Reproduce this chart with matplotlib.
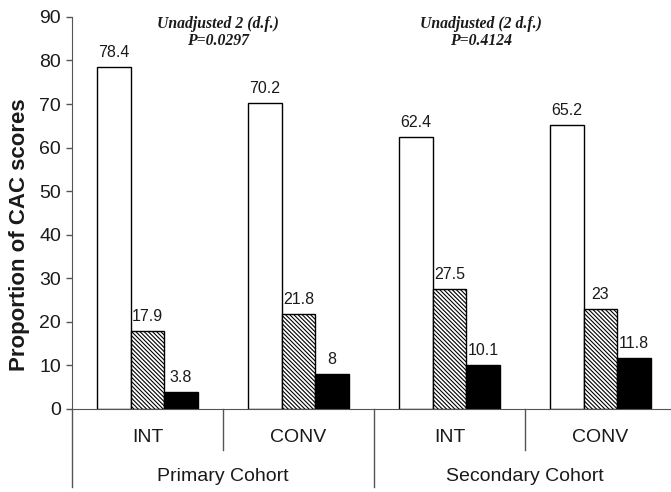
import matplotlib
matplotlib.use("Agg")
import matplotlib.pyplot as plt
import numpy as np

# data
groups = ["INT", "CONV", "INT", "CONV"]
cohorts = ["Primary Cohort", "Secondary Cohort"]
score_zero = [78.4, 70.2, 62.4, 65.2]
score_mid = [17.9, 21.8, 27.5, 23]
score_high = [3.8, 8, 10.1, 11.8]
notes = [("Unadjusted 2 (d.f.)", "P=0.0297"), ("Unadjusted (2 d.f.)", "P=0.4124")]

plt.rcParams["font.family"] = ["Liberation Sans", "DejaVu Sans"]
plt.rcParams["hatch.linewidth"] = 0.8
ink = "#1a1a1a"
line_col = "#555555"

fig = plt.figure(figsize=(6.71, 4.92), dpi=100)
ax = fig.add_axes([0.1073, 0.1687, 0.9002, 0.797])

x = np.arange(len(groups))
w = 0.222
series = [
    (score_zero, -w, dict(facecolor="white", hatch=None)),
    (score_mid, 0.0, dict(facecolor="white", hatch="\\" * 8)),
    (score_high, w, dict(facecolor="black", hatch=None)),
]
for vals, off, style in series:
    bars = ax.bar(x + off, vals, width=w, edgecolor="black", linewidth=1.0, **style)
    for b, v in zip(bars, vals):
        ax.annotate(f"{v:g}", (b.get_x() + b.get_width() / 2, v), xytext=(0, 5),
                    textcoords="offset points", ha="center", va="bottom",
                    fontsize=11.5, color=ink)

ax.set_xlim(-0.5, 3.5)
ax.set_ylim(0, 90)
ax.set_yticks(np.arange(0, 91, 10))
ax.tick_params(axis="y", length=4, width=1, color=line_col, labelsize=14,
               labelcolor=ink, pad=4)
ax.set_xticks([])
for s in ["top", "right"]:
    ax.spines[s].set_visible(False)
ax.spines["left"].set_color(line_col)
ax.spines["bottom"].set_color(line_col)
ax.set_ylabel("Proportion of CAC scores", fontsize=16, fontweight="bold", color=ink)
ax.yaxis.set_label_coords(-0.069, 0.444)

# category axis structure below the plot
tr = ax.get_xaxis_transform()
ax.plot([-0.5, -0.5], [0, -0.2], transform=tr, color=line_col, lw=1, clip_on=False)
for xd in [0.5, 2.5]:
    ax.plot([xd, xd], [0, -0.105], transform=tr, color=line_col, lw=1, clip_on=False)
ax.plot([1.5, 1.5], [0, -0.2], transform=tr, color=line_col, lw=1, clip_on=False)
for xi, g in zip(x, groups):
    ax.text(xi, -0.072, g, transform=tr, ha="center", va="center",
            fontsize=14, color=ink)
for xi, c in zip([0.5, 2.5], cohorts):
    ax.text(xi, -0.173, c, transform=tr, ha="center", va="center",
            fontsize=14, color=ink)

# test annotations
for xi, (l1, l2) in zip([0.467, 2.21], notes):
    ax.text(xi, 88.4, l1, ha="center", va="center", fontsize=11.3,
            family="Liberation Serif", style="italic", fontweight="bold", color=ink)
    ax.text(xi, 84.4, l2, ha="center", va="center", fontsize=11.3,
            family="Liberation Serif", style="italic", fontweight="bold", color=ink)

fig.savefig("out.png", dpi=100)
